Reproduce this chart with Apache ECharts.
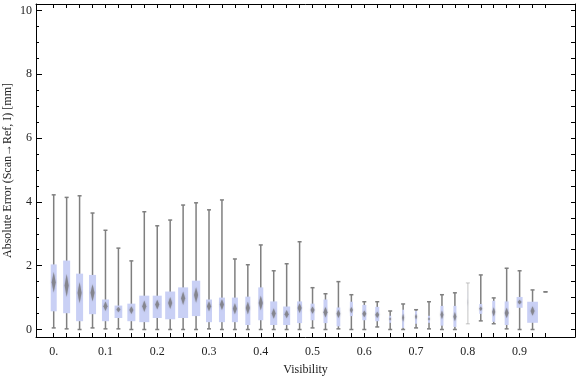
<!DOCTYPE html>
<html lang="en">
<head>
<meta charset="UTF-8">
<title>Absolute Error vs Visibility</title>
<script src="https://cdn.jsdelivr.net/npm/echarts@6/dist/echarts.min.js"></script>
<style>
    html, body { margin: 0; padding: 0; background: #fff; }
    #main { width: 576px; height: 377px; }
</style>
</head>
<body>
<div id="main"></div>
<script>
// one box per visibility bin (width 0.025)
var visibility  = [0, 0.025, 0.05, 0.075, 0.1, 0.125, 0.15, 0.175, 0.2, 0.225,
                   0.25, 0.275, 0.3, 0.325, 0.35, 0.375, 0.4, 0.425, 0.45, 0.475,
                   0.5, 0.525, 0.55, 0.575, 0.6, 0.625, 0.65, 0.675, 0.7, 0.725,
                   0.75, 0.775, 0.8, 0.825, 0.85, 0.875, 0.9, 0.925, 0.95];
var whiskerLow  = [0.05, 0.02, 0.0, 0.05, 0.02, 0.02, 0.0, 0.0, 0.0, 0.0,
                   0.0, 0.0, 0.02, 0.0, 0.0, 0.0, 0.0, 0.0, 0.0, 0.0,
                   0.05, 0.0, 0.02, 0.0, 0.0, 0.08, 0.0, 0.0, 0.05, 0.02,
                   0.0, 0.0, 0.18, 0.27, 0.18, 0.02, 0.0, 0.0, 1.18];
var quartile1   = [0.57, 0.51, 0.26, 0.48, 0.26, 0.36, 0.26, 0.23, 0.36, 0.32,
                   0.36, 0.42, 0.23, 0.23, 0.23, 0.14, 0.29, 0.14, 0.14, 0.2,
                   0.29, 0.2, 0.1, 0.42, 0.29, 0.26, 0.21, 0.05, 0.18, 0.21,
                   0.12, 0.08, 0.6, 0.49, 0.24, 0.14, 0.68, 0.21, 1.18];
var medians     = [1.48, 1.38, 1.15, 1.15, 0.73, 0.63, 0.61, 0.73, 0.78, 0.83,
                   0.98, 1.08, 0.73, 0.78, 0.65, 0.67, 0.83, 0.5, 0.48, 0.67,
                   0.61, 0.54, 0.49, 0.61, 0.49, 0.46, 0.33, 0.37, 0.4, 0.33,
                   0.46, 0.4, 0.85, 0.65, 0.55, 0.52, 0.86, 0.58, 1.18];
var quartile3   = [2.04, 2.16, 1.75, 1.71, 0.94, 0.75, 0.81, 1.06, 1.06, 1.19,
                   1.32, 1.53, 0.94, 1.0, 1.0, 1.03, 1.32, 0.88, 0.72, 0.88,
                   0.81, 0.94, 0.69, 0.87, 0.77, 0.71, 0.43, 0.62, 0.58, 0.43,
                   0.74, 0.74, 1.2, 0.8, 0.9, 0.88, 1.02, 0.87, 1.18];
var whiskerHigh = [4.22, 4.14, 4.19, 3.65, 3.11, 2.55, 2.15, 3.69, 3.25, 3.43,
                   3.9, 3.97, 3.75, 4.06, 2.21, 2.03, 2.65, 1.84, 2.06, 2.75,
                   1.31, 1.12, 1.5, 1.09, 0.87, 0.87, 0.58, 0.8, 0.62, 0.87,
                   1.09, 1.15, 1.46, 1.71, 0.99, 1.92, 1.84, 1.24, 1.18];
// relative sample weight of each bin (drives box width)
var binWeight   = [6, 7, 7, 7, 7, 7.7, 8, 10, 9, 10,
                   10, 8.3, 6, 6, 6, 5, 5, 7, 7, 5,
                   4, 4, 3.7, 3, 4, 4, 2, 2, 2, 2,
                   3, 3, 0.6, 3, 3, 4, 6, 10.7, 2];

var xLabelValues = [0, 0.1, 0.2, 0.3, 0.4, 0.5, 0.6, 0.7, 0.8, 0.9];
var yLabelValues = [0, 2, 4, 6, 8, 10];
var yMinorValues = [0, 0.5, 1, 1.5, 2, 2.5, 3, 3.5, 4, 4.5, 5, 5.5, 6, 6.5, 7, 7.5, 8, 8.5, 9, 9.5, 10];

var rows = [];
for (var i = 0; i < visibility.length; i++) {
    rows.push([visibility[i], whiskerLow[i], quartile1[i], medians[i], quartile3[i], whiskerHigh[i], binWeight[i]]);
}

var boxColor = '#c9d0f5';
var whiskerColor = '#7f7f7f';
var labelFont = '"Liberation Serif", "DejaVu Serif", serif';

function renderBox(params, api) {
    var x = api.value(0);
    var pLow = api.coord([x, api.value(1)]);
    var pQ1 = api.coord([x, api.value(2)]);
    var pMed = api.coord([x, api.value(3)]);
    var pQ3 = api.coord([x, api.value(4)]);
    var pHigh = api.coord([x, api.value(5)]);
    var band = api.size([0.025, 0])[0];
    var w = api.value(6);
    var bw = w / 12.9 * band;
    var alpha = Math.min(1, w / 2);
    var cx = pLow[0];
    var dh = (pQ1[1] - pQ3[1]) * 0.22;
    var dw = Math.min(2, bw / 2);
    var lineStyle = { stroke: whiskerColor, lineWidth: 1.5, opacity: alpha };
    return {
        type: 'group',
        children: [
            { type: 'line', shape: { x1: cx, y1: pLow[1], x2: cx, y2: pHigh[1] }, style: lineStyle },
            { type: 'line', shape: { x1: cx - 2, y1: pLow[1], x2: cx + 2, y2: pLow[1] }, style: lineStyle },
            { type: 'line', shape: { x1: cx - 2, y1: pHigh[1], x2: cx + 2, y2: pHigh[1] }, style: lineStyle },
            { type: 'rect', shape: { x: cx - bw / 2, y: pQ3[1], width: bw, height: pQ1[1] - pQ3[1] },
              style: { fill: boxColor, opacity: alpha } },
            { type: 'polygon', shape: { points: [[cx, pMed[1] - dh], [cx + dw, pMed[1]], [cx, pMed[1] + dh], [cx - dw, pMed[1]]] },
              style: { fill: '#7f7f85', opacity: 0.85 * alpha, shadowBlur: 2, shadowColor: 'rgba(130,130,140,0.7)' } }
        ]
    };
}

var myChart = echarts.init(document.getElementById('main'));

var xMin = -0.0342, xMax = 1.007;
var yMin = -0.235, yMax = 10.2;

option = {
    animation: false,
    grid: { left: 36, right: 1, top: 4, bottom: 40, outerBoundsMode: 'none', containLabel: false },
    xAxis: [
        {
            type: 'value', position: 'bottom', min: xMin, max: xMax,
            name: 'Visibility', nameLocation: 'middle', nameGap: 27, nameMoveOverlap: false,
            nameTextStyle: { fontFamily: labelFont, fontSize: 12, color: '#222' },
            axisLine: { show: true, onZero: false, lineStyle: { color: '#000', width: 1 } },
            axisTick: { show: true, inside: true, length: 4, customValues: visibility, lineStyle: { color: '#000' } },
            axisLabel: {
                show: true, margin: 9, customValues: xLabelValues,
                fontFamily: labelFont, fontSize: 12, color: '#222',
                formatter: function (v) { return v === 0 ? '0.' : v.toFixed(1); }
            },
            splitLine: { show: false }
        },
        {
            type: 'value', position: 'top', min: xMin, max: xMax,
            axisLine: { show: true, onZero: false, lineStyle: { color: '#000', width: 1 } },
            axisTick: { show: true, inside: true, length: 4, customValues: visibility, lineStyle: { color: '#000' } },
            axisLabel: { show: false },
            splitLine: { show: false }
        }
    ],
    yAxis: [
        {
            type: 'value', position: 'left', offset: 0, min: yMin, max: yMax,
            name: 'Absolute Error (Scan\u2192Ref, I) [mm]', nameLocation: 'middle', nameGap: 22, nameMoveOverlap: false,
            nameTextStyle: { fontFamily: labelFont, fontSize: 12, color: '#222' },
            axisLine: { show: true, onZero: false, lineStyle: { color: '#000', width: 1 } },
            axisTick: { show: true, inside: true, length: 6, customValues: yLabelValues, lineStyle: { color: '#000' } },
            axisLabel: { show: true, margin: 4, customValues: yLabelValues, fontFamily: labelFont, fontSize: 12, color: '#222' },
            splitLine: { show: false }
        },
        {
            type: 'value', position: 'left', offset: 0, min: yMin, max: yMax,
            axisLine: { show: false, onZero: false },
            axisTick: { show: true, inside: true, length: 3, customValues: yMinorValues, lineStyle: { color: '#000' } },
            axisLabel: { show: false },
            splitLine: { show: false }
        },
        {
            type: 'value', position: 'right', offset: 0, min: yMin, max: yMax,
            axisLine: { show: true, onZero: false, lineStyle: { color: '#000', width: 1 } },
            axisTick: { show: true, inside: true, length: 4, customValues: yMinorValues, lineStyle: { color: '#000' } },
            axisLabel: { show: false },
            splitLine: { show: false }
        }
    ],
    series: [
        {
            type: 'custom',
            xAxisIndex: 0,
            yAxisIndex: 0,
            renderItem: renderBox,
            encode: { x: 0, y: [1, 5] },
            data: rows,
            clip: true
        }
    ]
};

myChart.setOption(option);
</script>
</body>
</html>
